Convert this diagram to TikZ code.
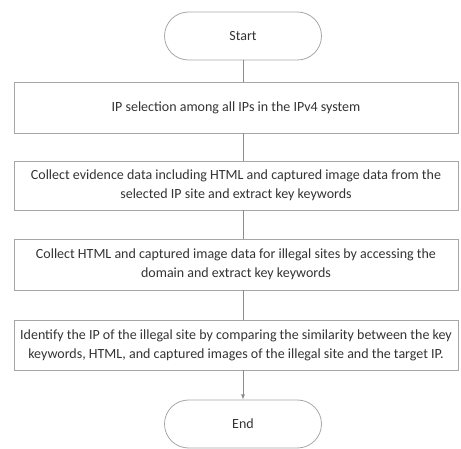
\documentclass[tikz,border=0pt]{standalone}
\usepackage{fontspec}
\setmainfont{Carlito}
\usepackage{tikz}
\usetikzlibrary{positioning}

\begin{document}
\begin{tikzpicture}[x=1pt, y=-1pt,
    every node/.style={font=\fontsize{14}{19}\selectfont, text=black!80},
    term/.style={draw=gray!70, line width=0.8pt, rounded corners=24pt, minimum width=157pt, minimum height=48pt},
    stepbox/.style={draw=gray!70, line width=0.8pt, inner xsep=0pt, minimum width=444pt, minimum height=50pt, align=center},
    link/.style={gray!90, line width=0.8pt}]
    \useasboundingbox (0,0) rectangle (461,449);

    % Start
    \node[term] (start) at (243,36) {Start};

    % Steps
    \node[stepbox, minimum height=51pt] (sel) at (236,107.5) {IP selection among all IPs in the IPv4 system};
    \node[stepbox, minimum height=49pt] (evid) at (236,185.5) {Collect evidence data including HTML and captured image data from the\\
        selected IP site and extract key keywords};
    \node[stepbox, minimum height=51pt] (illegal) at (236,264.5) {Collect HTML and captured image data for illegal sites by accessing the\\
        domain and extract key keywords};
    \node[stepbox] (ident) at (236,345) {Identify the IP of the illegal site by comparing the similarity between the key\\
        keywords, HTML, and captured images of the illegal site and the target IP.};

    % End
    \node[term] (stop) at (243,424) {End};

    % Connectors
    \draw[link] (start) -- (start |- sel.north);
    \draw[link] (sel.south -| start) -- (evid.north -| start);
    \draw[link] (evid.south -| start) -- (illegal.north -| start);
    \draw[link] (illegal.south -| start) -- (ident.north -| start);
    \draw[link, -latex] (ident.south -| start) -- (stop);
\end{tikzpicture}
\end{document}
